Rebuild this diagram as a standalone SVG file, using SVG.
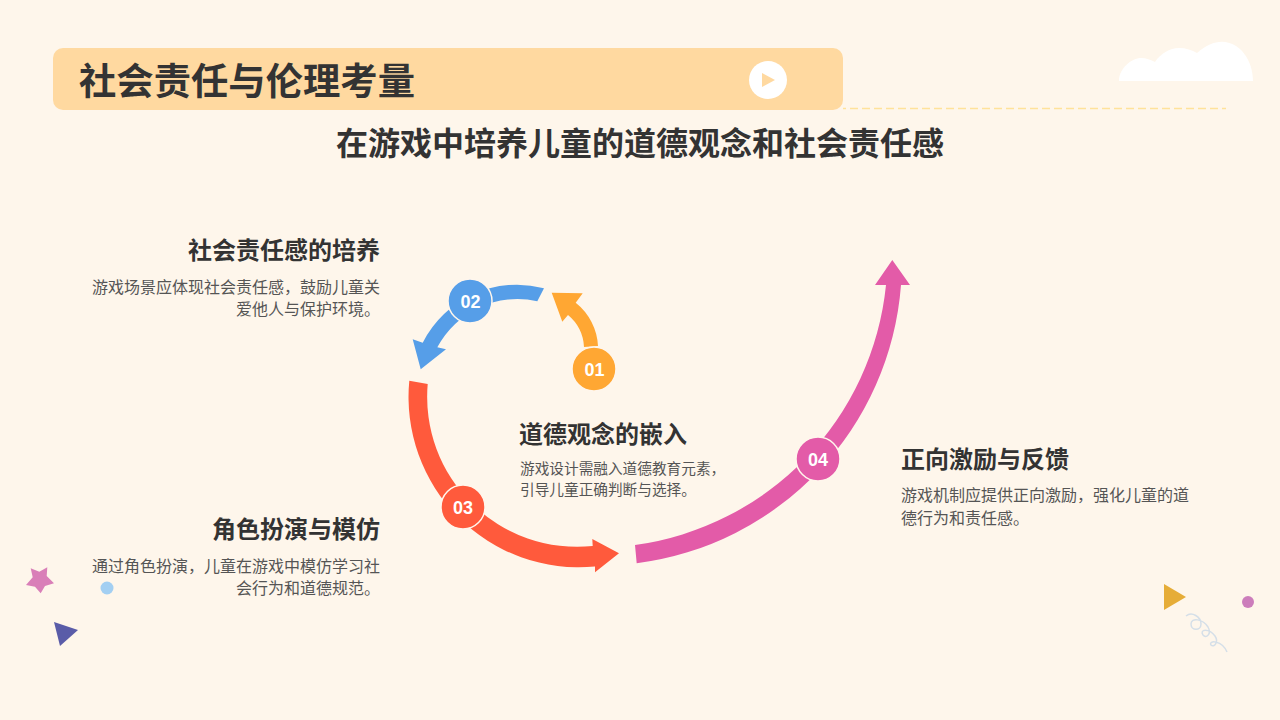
<svg xmlns="http://www.w3.org/2000/svg" width="1280" height="720" viewBox="0 0 1280 720">
<style>
text{font-family:"Noto Sans CJK SC","Liberation Sans",sans-serif}
.h{font-size:24px;font-weight:700;fill:#333}
.b{font-size:16px;fill:#555}
.s{font-size:14.67px}
.e{text-anchor:end}
.n{font-family:"Liberation Sans",Arial,sans-serif;font-size:18px;font-weight:700;fill:#fff;text-anchor:middle}
.c{stroke:#fff6ec;stroke-width:1.5}
</style>
<rect width="1280" height="720" fill="#fef6eb"/>
<g id="decor">
<path d="M1119 81C1119 68 1132 58 1141 58C1146 58 1151 60 1155 62C1160 54 1170 48 1179 48C1186 48 1192 50 1197 53C1206 45 1214 41.700 1222 41.700C1240 42 1253 60 1253 81Z" fill="#fff"/>
<path d="M843 108.500H1226" stroke="#ffe29a" stroke-width="1.500" stroke-dasharray="8 4" stroke-dashoffset="5" fill="none"/>
<path d="M30.700 568.300L39.300 571.700L47.300 567.300L46.700 576L54 583.300L45 586L40.700 593.300L35 586.700L26 585L32.700 577.300Z" fill="#d97fb8"/>
<circle cx="107" cy="588" r="6.500" fill="#a3cff2"/>
<path d="M54 622L78 630L60 646Z" fill="#5a5ca8"/>
<path d="M1164 584L1186 597L1164 610Z" fill="#e6ad38"/>
<circle cx="1248" cy="602" r="6" fill="#cc7dbb"/>
<path d="M1186 616C1192 611 1201 617 1201 624C1201 631 1191 631 1191 624C1191 617 1203 619 1208 627C1212 634 1206 639 1203 635C1199 629 1209 628 1215 636C1219 642 1214 648 1211 645C1208 640 1222 640 1227 652" fill="none" stroke="#d5dfe8" stroke-width="1.500"/>
</g>
<g id="title">
<rect x="53" y="48" width="790" height="62" rx="10" fill="#ffd9a0"/>
<circle cx="768" cy="80" r="19" fill="#fff"/>
<path d="M762 73L775 80L762 87Z" fill="#ffd9a0"/>
<text x="79" y="95" font-size="37.330" font-weight="700" fill="#333">社会责任与伦理考量</text>
<text x="640" y="155" font-size="32" font-weight="700" fill="#333" text-anchor="middle">在游戏中培养儿童的道德观念和社会责任感</text>
</g>
<g id="connectors">
<path d="M598 346A59 59 0 0 0 575.700 302.700L582.700 293.300L551.700 292.700L562.300 321.700L568 315A44.500 44.500 0 0 1 584 347Z" fill="#ffa733"/>
<path d="M544 288.300A105.600 105.600 0 0 0 422.700 342.700L412.700 339.300L420.700 369.300L446 349.300L437.300 347.300A90.700 90.700 0 0 1 537.300 301.300Z" fill="#569ee8"/>
<path d="M409.300 380.700A170.300 170.300 0 0 0 595 566.500L595 572.300L619 553.300L592.300 539L592.700 546A150 150 0 0 1 427.700 384Z" fill="#ff5a3c"/>
<path d="M636.700 563.300A303.700 303.700 0 0 0 901 285H910L892.300 260L875 285H886A292 292 0 0 1 635 545Z" fill="#e35ba8"/>
</g>
<g id="node-01">
<circle class="c" cx="594" cy="369" r="22" fill="#ffa733"/>
<text class="n" x="594.500" y="375.500">01</text>
<text class="h" x="519" y="443">道德观念的嵌入</text>
<text class="b s" x="520" y="474">游戏设计需融入道德教育元素，</text>
<text class="b s" x="520" y="495">引导儿童正确判断与选择。</text>
</g>
<g id="node-02">
<circle class="c" cx="470" cy="301" r="22" fill="#569ee8"/>
<text class="n" x="470.500" y="307.500">02</text>
<text class="h e" x="380" y="259">社会责任感的培养</text>
<text class="b e" x="380" y="293">游戏场景应体现社会责任感，鼓励儿童关</text>
<text class="b e" x="380" y="315">爱他人与保护环境。</text>
</g>
<g id="node-03">
<circle class="c" cx="463" cy="507" r="22" fill="#ff5a3c"/>
<text class="n" x="463" y="513.500">03</text>
<text class="h e" x="380" y="538">角色扮演与模仿</text>
<text class="b e" x="380" y="572">通过角色扮演，儿童在游戏中模仿学习社</text>
<text class="b e" x="380" y="594">会行为和道德规范。</text>
</g>
<g id="node-04">
<circle class="c" cx="818" cy="459" r="22" fill="#e35ba8"/>
<text class="n" x="818" y="465.500">04</text>
<text class="h" x="901" y="468">正向激励与反馈</text>
<text class="b" x="901" y="501">游戏机制应提供正向激励，强化儿童的道</text>
<text class="b" x="901" y="524">德行为和责任感。</text>
</g>
</svg>
